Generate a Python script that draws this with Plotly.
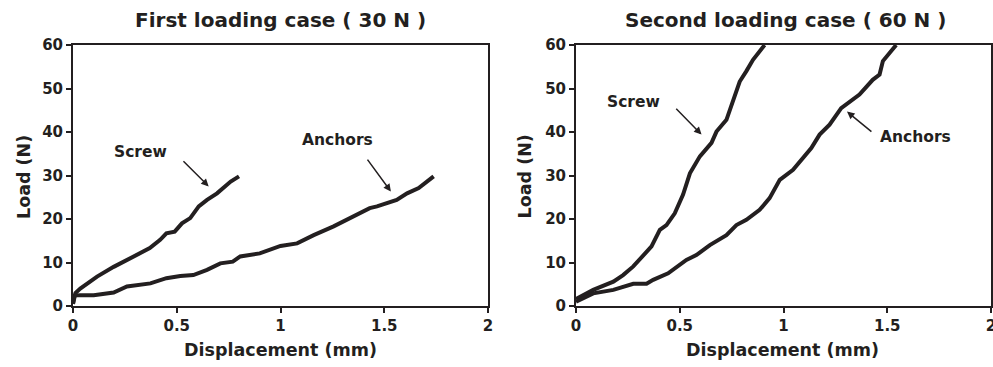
import plotly.graph_objects as go

# ---- data ----
screw1_x = [0.0, 0.005, 0.012, 0.035, 0.116, 0.196, 0.29, 0.37, 0.42, 0.45, 0.49, 0.525, 0.565, 0.606, 0.646, 0.694, 0.76, 0.8]
screw1_y = [0.5, 2.0, 3.0, 4.0, 6.75, 9.0, 11.4, 13.3, 15.2, 16.7, 17.1, 19.0, 20.2, 22.9, 24.4, 25.9, 28.6, 29.8]

anchor1_x = [0.0, 0.006, 0.035, 0.1, 0.196, 0.26, 0.373, 0.45, 0.517, 0.58, 0.646, 0.71, 0.77, 0.806, 0.9, 1.0, 1.08, 1.16, 1.256, 1.35, 1.43, 1.465, 1.56, 1.61, 1.666, 1.738]
anchor1_y = [0.5, 2.4, 2.5, 2.5, 3.1, 4.5, 5.2, 6.4, 6.9, 7.1, 8.3, 9.8, 10.2, 11.4, 12.1, 13.8, 14.4, 16.3, 18.3, 20.6, 22.5, 22.9, 24.4, 25.9, 27.1, 29.8]

screw2_x = [0.0, 0.083, 0.18, 0.227, 0.276, 0.34, 0.364, 0.404, 0.436, 0.476, 0.516, 0.549, 0.597, 0.653, 0.677, 0.725, 0.749, 0.773, 0.789, 0.821, 0.853, 0.909]
screw2_y = [1.6, 3.7, 5.6, 7.1, 9.1, 12.5, 13.7, 17.5, 18.6, 21.3, 25.6, 30.5, 34.4, 37.5, 40.1, 42.8, 45.9, 49.0, 51.6, 54.0, 56.6, 60.0]

anchor2_x = [0.0, 0.083, 0.18, 0.227, 0.276, 0.34, 0.372, 0.444, 0.476, 0.532, 0.58, 0.645, 0.725, 0.773, 0.821, 0.885, 0.933, 0.982, 1.046, 1.134, 1.174, 1.222, 1.278, 1.318, 1.366, 1.43, 1.463, 1.479, 1.543]
anchor2_y = [1.0, 2.9, 3.7, 4.5, 5.1, 5.1, 6.0, 7.5, 8.7, 10.6, 11.7, 14.0, 16.3, 18.6, 19.8, 22.1, 24.8, 29.0, 31.3, 36.3, 39.4, 41.7, 45.5, 47.0, 48.6, 52.0, 53.2, 56.3, 60.0]

titles = ["First loading case ( 30 N )", "Second loading case ( 60 N )"]
x_title = "Displacement (mm)"
y_title = "Load (N)"
x_ticks = [0, 0.5, 1, 1.5, 2]
x_ticktext = ["0", "0.5", "1", "1.5", "2"]
y_ticks = [0, 10, 20, 30, 40, 50, 60]

FONT = "DejaVu Sans"
INK = "#231f20"

fig = go.Figure()
line = dict(color=INK, width=4)
fig.add_trace(go.Scatter(x=screw1_x, y=screw1_y, mode="lines", line=line, xaxis="x", yaxis="y", showlegend=False))
fig.add_trace(go.Scatter(x=anchor1_x, y=anchor1_y, mode="lines", line=line, xaxis="x", yaxis="y", showlegend=False))
fig.add_trace(go.Scatter(x=screw2_x, y=screw2_y, mode="lines", line=line, xaxis="x2", yaxis="y2", showlegend=False))
fig.add_trace(go.Scatter(x=anchor2_x, y=anchor2_y, mode="lines", line=line, xaxis="x2", yaxis="y2", showlegend=False))

tickfont = dict(family=FONT, size=15, color=INK, weight="bold")
axis_common = dict(showgrid=False, zeroline=False, showline=True, linecolor=INK, linewidth=2,
                   mirror=True, ticks="outside", ticklen=5, tickwidth=2, tickcolor=INK,
                   tickfont=tickfont, automargin=False, ticklabeloverflow="allow")
xa = dict(range=[0, 2], tickvals=x_ticks, ticktext=x_ticktext, **axis_common)
ya = dict(range=[0, 60], tickvals=y_ticks, **axis_common)

ydom = [1 - 306 / 367, 1 - 45 / 367]
fig.update_layout(
    width=993, height=367,
    margin=dict(l=0, r=0, t=0, b=0, pad=0, autoexpand=False),
    paper_bgcolor="white", plot_bgcolor="white",
    xaxis=dict(domain=[73 / 993, 488 / 993], anchor="y", **xa),
    yaxis=dict(domain=ydom, anchor="x", **ya),
    xaxis2=dict(domain=[576 / 993, 991 / 993], anchor="y2", **xa),
    yaxis2=dict(domain=ydom, anchor="x2", **ya),
)

ann = []
big = dict(family=FONT, size=20, color=INK, weight="bold")
mid = dict(family=FONT, size=17.5, color=INK, weight="bold")
small = dict(family=FONT, size=15.5, color=INK, weight="bold")
for cx, t in zip([280 / 993, 785 / 993], titles):
    ann.append(dict(text=t, x=cx, y=1 - 20 / 367, xref="paper", yref="paper",
                    xanchor="center", yanchor="middle", showarrow=False, font=big))
for cx in [280 / 993, 782 / 993]:
    ann.append(dict(text=x_title, x=cx, y=1 - 350 / 367, xref="paper", yref="paper",
                    xanchor="center", yanchor="middle", showarrow=False, font=mid))
for cx in [23.3 / 993, 524.7 / 993]:
    ann.append(dict(text=y_title, x=cx, y=1 - 176.7 / 367, xref="paper", yref="paper",
                    xanchor="center", yanchor="middle", showarrow=False, font=mid, textangle=-90))

# labels
labels = [
    ("x", "y", "Screw", 0.324, 35.3),
    ("x", "y", "Anchors", 1.275, 38.2),
    ("x2", "y2", "Screw", 0.276, 47.0),
    ("x2", "y2", "Anchors", 1.636, 38.8),
]
for xr, yr, t, x, y in labels:
    ann.append(dict(text=t, x=x, y=y, xref=xr, yref=yr, showarrow=False,
                    xanchor="center", yanchor="middle", font=small))

arrows = [
    ("x", "y", 0.525, 33.6, 0.654, 27.5),
    ("x", "y", 1.414, 34.0, 1.532, 26.3),
    ("x2", "y2", 0.476, 45.7, 0.605, 39.4),
    ("x2", "y2", 1.431, 39.8, 1.306, 44.7),
]
for xr, yr, tx, ty, hx, hy in arrows:
    ann.append(dict(text="", x=hx, y=hy, xref=xr, yref=yr, ax=tx, ay=ty, axref=xr, ayref=yr,
                    showarrow=True, arrowhead=2, arrowsize=1.0, arrowwidth=1.5, arrowcolor=INK,
                    standoff=0, startstandoff=0))

fig.update_layout(annotations=ann)
fig.write_html("out.html", config={"displayModeBar": False},
               post_script="document.body.style.margin='0';document.body.style.overflow='hidden';")
